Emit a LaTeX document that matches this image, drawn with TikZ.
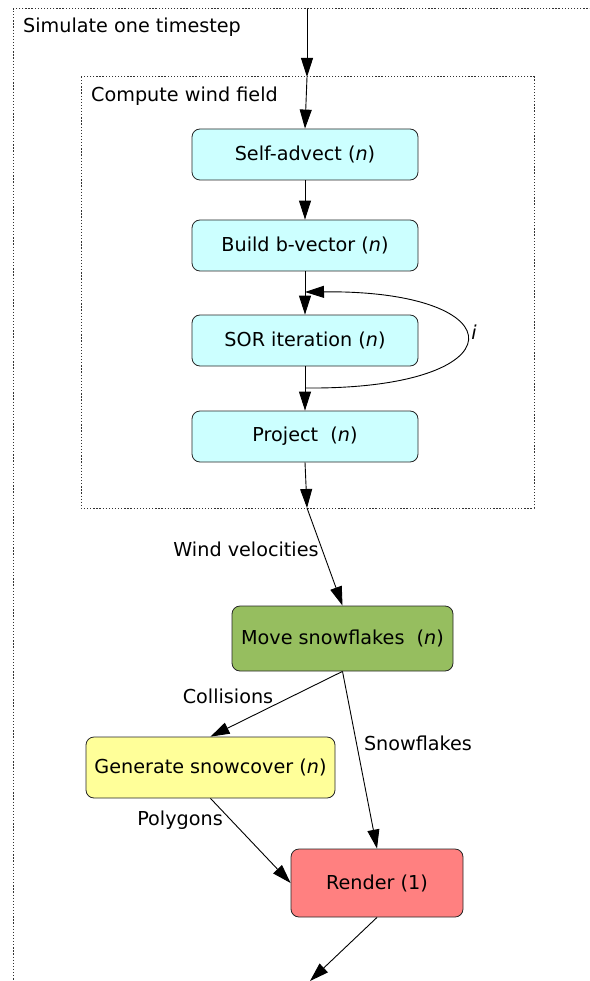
\documentclass[tikz,border=0pt]{standalone}
\usepackage{fontspec}
\setmainfont{DejaVu Sans}
\usetikzlibrary{arrows.meta}
\definecolor{cyanfill}{RGB}{204,255,255}
\definecolor{greenfill}{RGB}{150,190,95}
\definecolor{yellowfill}{RGB}{255,255,153}
\definecolor{redfill}{RGB}{255,128,128}
\tikzset{
  proc/.style={draw=black!85, line width=0.8pt, rounded corners=8pt, inner sep=0pt,
    font=\fontsize{19.2}{22}\selectfont},
  cluster/.style={draw=black!80, line width=1pt, dash pattern=on 1.3pt off 1.8pt},
  flow/.style={draw=black, line width=0.9pt, -{Triangle[length=19pt,width=12pt]}},
  lbl/.style={font=\fontsize{19.2}{22}\selectfont, inner sep=0pt},
}
\begin{document}
\begin{tikzpicture}[x=1pt,y=-1pt]
\useasboundingbox (0,0) rectangle (589,981);
\clip (0,0) rectangle (589,981);

% clusters
\draw[cluster] (600,9) -- (13,9) -- (13,990);
\node[lbl, anchor=west] (simlbl) at (23,27.5) {Simulate one timestep};
\draw[cluster] (81,77) rectangle (534,508);
\node[lbl, anchor=west] (windlbl) at (91,96.5) {Compute wind field};

% process nodes
\node[proc, fill=cyanfill, minimum width=226pt, minimum height=51pt] (adv) at (305,154.5) {Self-advect (\textit{n})};
\node[proc, fill=cyanfill, minimum width=226pt, minimum height=51pt] (bvec) at (305,245.5) {Build b-vector (\textit{n})};
\node[proc, fill=cyanfill, minimum width=226pt, minimum height=51pt] (sor) at (305,340.5) {SOR iteration (\textit{n})};
\node[proc, fill=cyanfill, minimum width=226pt, minimum height=51pt] (proj) at (305,436.5) {Project\ \ (\textit{n})};
\node[proc, fill=greenfill, minimum width=221pt, minimum height=65pt] (move) at (342.5,638.5) {Move snowflakes\ \ (\textit{n})};
\node[proc, fill=yellowfill, minimum width=249pt, minimum height=61pt] (gen) at (210.5,767.5) {Generate snowcover (\textit{n})};
\node[proc, fill=redfill, minimum width=172pt, minimum height=68pt] (render) at (377,883) {Render (1)};

% connection points on the cluster borders
\coordinate (top) at (307,9);
\coordinate (inwind) at (307,77);
\coordinate (outwind) at (307,508);
\coordinate (bottom) at (310,981);
\coordinate (loopstart) at (305,388);
\coordinate (loopend) at (305,292);

% edges
\draw[flow] (top) -- (inwind);
\draw[flow] (inwind) -- (adv.north);
\draw[flow] (adv) -- (bvec);
\draw[flow] (bvec) -- (sor);
\draw[flow] (sor) -- (proj);
\draw[flow] (loopstart) .. controls (520,390) and (520,290) .. (loopend);
\node[lbl, font=\fontsize{19.2}{22}\selectfont\itshape] (iter) at (474,332) {i};
\draw[flow] (proj.south) -- (outwind);
\draw[flow] (outwind) -- (move.north);
\node[lbl] (windvel) at (246,549.5) {Wind velocities};
\draw[flow] (move.south) -- (gen.north);
\node[lbl] (coll) at (228,696.5) {Collisions};
\draw[flow] (move.south) -- (render.north);
\node[lbl] (flakes) at (418,743.5) {Snowflakes};
\draw[flow] (gen.south) -- (render.west);
\node[lbl] (poly) at (180,820.5) {Polygons};
\draw[flow] (render.south) -- (bottom);
\end{tikzpicture}
\end{document}
